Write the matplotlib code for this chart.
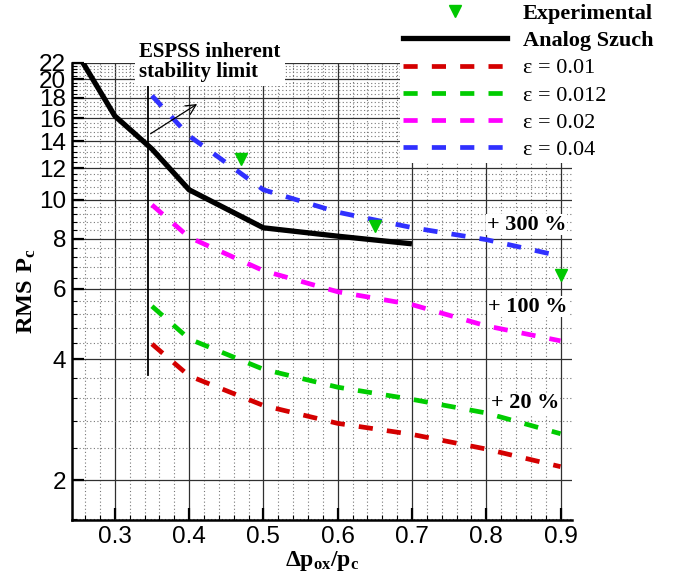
import numpy as np
import matplotlib.pyplot as plt
from matplotlib.lines import Line2D
from matplotlib.ticker import FixedLocator, NullFormatter, FormatStrFormatter

plt.rcParams["mathtext.fontset"] = "custom"
plt.rcParams["mathtext.rm"] = "Liberation Serif"
plt.rcParams["mathtext.bf"] = "Liberation Serif:bold"

# ESPSS runs for different epsilon values
x_eps = [0.35, 0.4, 0.5, 0.6, 0.7, 0.8, 0.9]
eps_001 = [4.37, 3.64, 3.07, 2.77, 2.60, 2.39, 2.16]
eps_0012 = [5.43, 4.50, 3.78, 3.41, 3.18, 2.94, 2.61]
eps_002 = [9.72, 8.07, 6.66, 5.90, 5.48, 4.85, 4.45]
eps_004 = [18.2, 14.45, 10.6, 9.32, 8.53, 7.96, 7.24]

# Analog Szuch curve
x_szuch = [0.257, 0.3, 0.35, 0.4, 0.5, 0.6, 0.7]
rms_szuch = [22.0, 16.2, 13.4, 10.6, 8.52, 8.12, 7.77]

# Experimental points
x_exp = [0.47, 0.65, 0.9]
rms_exp = [12.67, 8.6, 6.51]

eps_series = [
    (eps_001, "#d40000", "\u03b5 = 0.01"),
    (eps_0012, "#00cc00", "\u03b5 = 0.012"),
    (eps_002, "#ff00ff", "\u03b5 = 0.02"),
    (eps_004, "#3030ff", "\u03b5 = 0.04"),
]

stab_x = 0.345
notes = [(0.854, 8.68, "+ 300 %"), (0.856, 5.42, "+ 100 %"), (0.852, 3.11, "+ 20 %")]

SERIF = "Liberation Serif"
SANS = "Liberation Sans"


def main():
    fig = plt.figure(figsize=(6.83, 5.74), dpi=100)
    ax = fig.add_axes([0.105, 0.0941, 0.732, 0.7967])
    ax.set_yscale("log")
    ax.set_xlim(0.242, 0.915)
    ax.set_ylim(1.59, 22.0)

    dash = (0, (3.0, 3.0))
    for vals, col, lab in eps_series:
        ax.plot(x_eps, vals, color=col, lw=3.4, linestyle=dash, zorder=3)

    ax.plot(x_szuch, rms_szuch, color="black", lw=3.8, zorder=4, solid_capstyle="butt")
    ax.plot(x_exp, rms_exp, linestyle="none", marker="v", ms=8, color="#00c800",
            markeredgecolor="#00c800", zorder=5)

    # stability limit line and arrow
    ax.plot([stab_x, stab_x], [3.66, 30], color="black", lw=1.3, zorder=3)
    ax.annotate("", xy=(0.414, 17.5), xytext=(stab_x, 14.5),
                arrowprops=dict(arrowstyle="->", lw=0.9, color="black", mutation_scale=18),
                zorder=3)

    for x, y, t in notes:
        ax.text(x, y, t, ha="center", va="center", fontsize=16, fontweight="bold",
                family=SERIF, zorder=6,
                bbox=dict(facecolor="white", edgecolor="none", pad=0.3))

    # ticks and grid
    ax.yaxis.set_major_locator(FixedLocator(np.arange(2, 23, 2)))
    ax.yaxis.set_major_formatter(FormatStrFormatter("%d"))
    ax.yaxis.set_minor_locator(FixedLocator(np.arange(1.6, 22.01, 0.4)))
    ax.yaxis.set_minor_formatter(NullFormatter())
    ax.xaxis.set_major_locator(FixedLocator(np.arange(0.3, 0.91, 0.1)))
    ax.xaxis.set_major_formatter(FormatStrFormatter("%.1f"))
    ax.xaxis.set_minor_locator(FixedLocator(np.arange(0.26, 0.915, 0.02)))

    ax.grid(which="major", color="#303030", lw=0.9)
    ax.grid(which="minor", color="#777777", lw=0.8, linestyle=(0, (1, 2.2)))

    ax.tick_params(which="major", direction="in", length=8.5, width=1.6,
                   top=False, right=False, labelsize=17.5)
    ax.tick_params(which="minor", direction="in", length=3.5, width=0.8,
                   top=False, right=False)
    ax.tick_params(axis="x", which="major", pad=4)
    ax.tick_params(axis="y", which="major", pad=4)
    for lab in ax.get_xticklabels() + ax.get_yticklabels():
        lab.set_family(SANS)

    for s in ("top", "right"):
        ax.spines[s].set_visible(False)
    for s in ("left", "bottom"):
        ax.spines[s].set_linewidth(1.8)

    ax.set_xlabel(r"$\mathbf{\Delta p_{ox}/p_c}$", fontsize=17, labelpad=1)
    ax.set_ylabel(r"$\mathbf{RMS\ P_c}$", fontsize=17.5, labelpad=1)

    # stability limit label
    fig.text(139 / 683, 1 - 42 / 574, "ESPSS inherent\nstability limit",
             ha="left", va="top", fontsize=15, fontweight="bold", family=SERIF,
             linespacing=1.0, zorder=6,
             bbox=dict(facecolor="white", edgecolor="none", pad=3))

    handles = [
        Line2D([], [], linestyle="none", marker="v", ms=8, color="#00c800"),
        Line2D([], [], color="black", lw=3.8),
    ]
    labels = ["Experimental", "Analog Szuch"]
    for vals, col, lab in eps_series:
        handles.append(Line2D([], [], color=col, lw=3.4, linestyle=dash))
        labels.append(lab)

    leg = fig.legend(handles, labels, loc="upper left", bbox_to_anchor=(400 / 683, 1.0),
                     frameon=True, facecolor="white", edgecolor="none", framealpha=1,
                     fancybox=False, prop={"family": SERIF, "size": 16},
                     handlelength=4.65, handletextpad=0.72, labelspacing=0.3,
                     borderpad=0.15, borderaxespad=0, numpoints=1)
    for t in leg.get_texts()[:2]:
        t.set_fontweight("bold")

    fig.savefig("out.png", dpi=100)
    plt.close(fig)


if __name__ == "__main__":
    main()
